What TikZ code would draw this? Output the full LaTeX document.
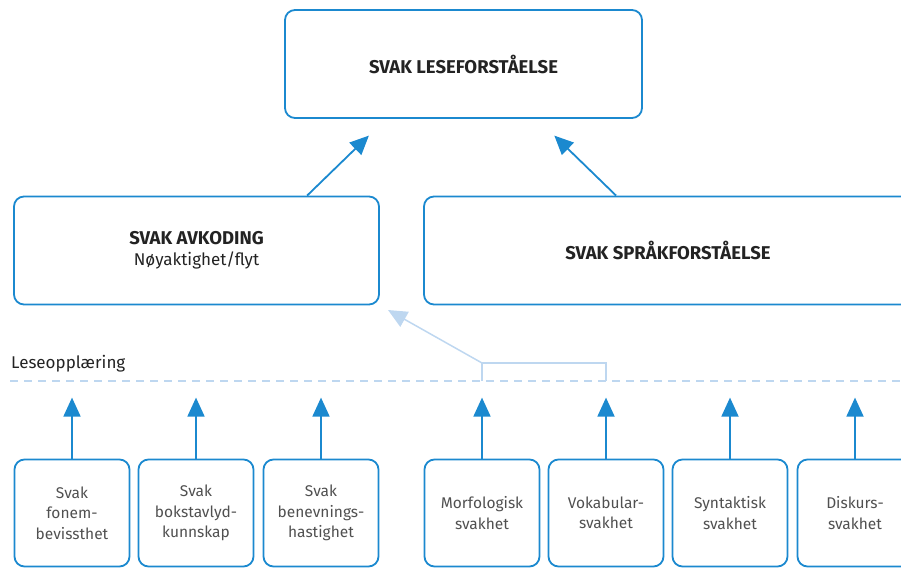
\documentclass[tikz,border=0pt]{standalone}
\usepackage{fontspec}
\setmainfont{Fira Sans}
\usetikzlibrary{arrows.meta,calc}
\definecolor{blaa}{RGB}{27,137,207}
\definecolor{lysblaa}{RGB}{190,215,240}
\definecolor{tekst}{RGB}{35,35,35}
\definecolor{graatekst}{RGB}{80,80,80}

\tikzset{
  boks/.style={draw=blaa, line width=1.8pt, rounded corners=10pt, align=center,
    text=tekst, inner sep=0pt},
  storboks/.style={boks, minimum height=108pt, font=\fontsize{18.5}{22}\selectfont},
  litenboks/.style={boks, minimum width=115pt, minimum height=107pt, text=graatekst,
    font=\fontsize{15.5}{20.5}\selectfont},
  pil/.style={draw=blaa, line width=1.8pt, -{Triangle[length=19pt,width=17pt]}},
  lyspil/.style={draw=lysblaa, line width=1.5pt, -{Triangle[length=19pt,width=17pt]}},
}

\begin{document}
\begin{tikzpicture}[x=1pt, y=-1pt]
\useasboundingbox (0,0) rectangle (901,568);

% ---- Top level ----
\node [storboks, minimum width=357pt] (lese) at (463.5, 64) {\textbf{SVAK LESEFORSTÅELSE}};

% ---- Middle level ----
\node [storboks, minimum width=365pt] (avk) at (196.5, 250.5) {\textbf{SVAK AVKODING}\\[-1pt]{\fontsize{17}{20}\selectfont Nøyaktighet/flyt}};
\node [storboks, minimum width=488pt] (sprak) at (668, 250.5) {\textbf{SVAK SPRÅKFORSTÅELSE}};

\draw [pil, shorten >=24pt] ($(avk.north west)+(294,0)$) -- ($(lese.south west)+(102,0)$);
\draw [pil, shorten >=24pt] ($(sprak.north west)+(193,0)$) -- ($(lese.south west)+(253,0)$);

% ---- Leseopplaering ----
\node [anchor=west, text=tekst, inner sep=0pt, font=\fontsize{17}{20}\selectfont] (lop) at (11, 364) {Leseopplæring};
\coordinate (dvest) at (10, 381);
\coordinate (døst) at (901, 381);
\draw [lysblaa, line width=1.6pt, dash pattern=on 8pt off 6pt] (dvest) -- (døst);

% ---- Bottom level ----
\node [litenboks] (fonem) at (72, 513) {Svak\\fonem-\\bevissthet};
\node [litenboks] (bokst) at (196, 513) {Svak\\bokstavlyd-\\kunnskap};
\node [litenboks] (benev) at (321, 513) {Svak\\benevnings-\\hastighet};
\node [litenboks] (morf)  at (482, 513) {Morfologisk\\svakhet};
\node [litenboks] (vokab) at (606, 513) {Vokabular-\\svakhet};
\node [litenboks] (synt)  at (730, 513) {Syntaktisk\\svakhet};
\node [litenboks] (disk)  at (855, 513) {Diskurs-\\svakhet};

\foreach \b in {fonem,bokst,benev,morf,vokab,synt,disk}
  \draw [pil] (\b.north) -- ++(0,-61);

% ---- Light connector to avkoding ----
\coordinate (mv) at (morf.north |- 0,363);
\coordinate (vv) at (vokab.north |- 0,363);
\coordinate (avkpil) at (388, 310);
\draw [lysblaa, line width=1.5pt] (morf.north |- dvest) -- (mv) -- (vv) -- (vokab.north |- dvest);
\draw [lyspil] (mv) -- (avkpil);

\end{tikzpicture}
\end{document}
